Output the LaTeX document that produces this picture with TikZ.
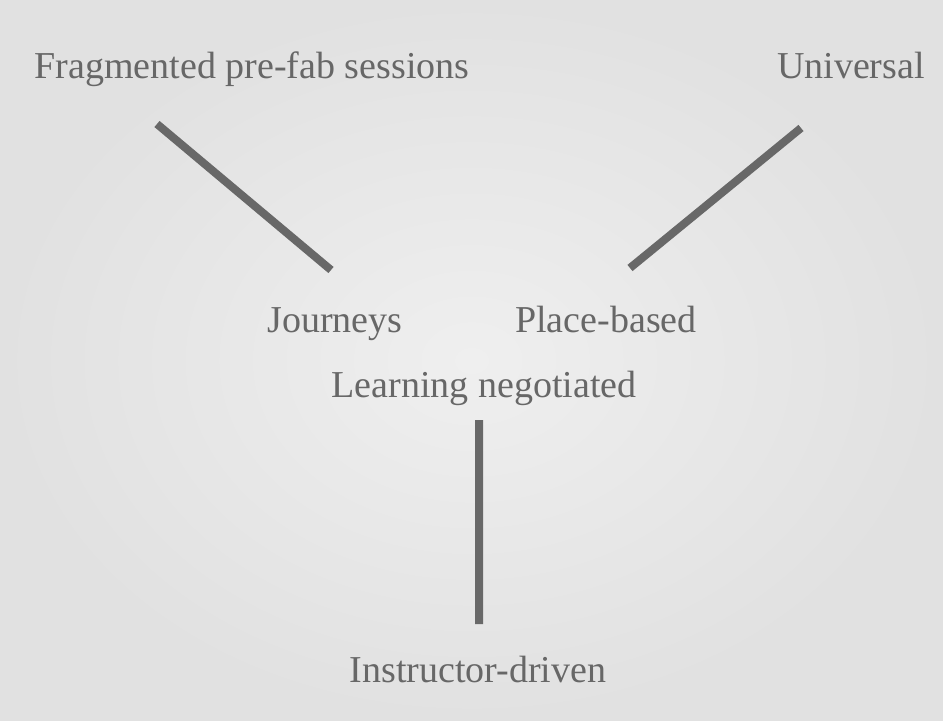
\documentclass[tikz,border=0pt]{standalone}
\usepackage{fontspec}
\setmainfont{Liberation Serif}
\definecolor{inkgray}{HTML}{676767}
\definecolor{bargray}{HTML}{686868}
\definecolor{paperin}{HTML}{EFEFEF}
\definecolor{paperout}{HTML}{E1E1E1}
\begin{document}
\begin{tikzpicture}[x=0.75pt,y=-0.75pt]
\useasboundingbox (0,0) rectangle (943,721);
\shade[inner color=paperin,outer color=paperout] (0,0) rectangle (943,721);
\tikzstyle{every node}=[text=inkgray,font=\fontsize{28.5}{34}\selectfont,inner sep=0pt,anchor=base];
\tikzstyle{bar}=[line width=6pt,bargray];
\node (frag) at (252,78) {Fragmented pre-fab sessions};
\node[anchor=base east] (univ) at (925,78) {Universal};
\node (jour) at (335,332) {Journeys};
\node (place) at (606,332) {Place-based};
\node (learn) at (484,397) {Learning negotiated};
\node (instr) at (478,682) {Instructor-driven};
\coordinate (a1) at (157,124);
\coordinate (a2) at (331,270);
\coordinate (b1) at (801,128);
\coordinate (b2) at (630,268);
\coordinate (c1) at (479,420);
\coordinate (c2) at (479,624);
\draw[bar] (a1) -- (a2)
(b1) -- (b2)
(c1) -- (c2);
\end{tikzpicture}
\end{document}
